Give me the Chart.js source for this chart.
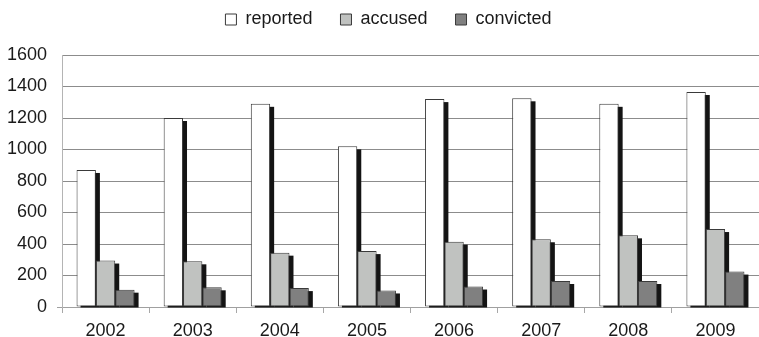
<!DOCTYPE html>
<html>
<head>
<meta charset="utf-8">
<style>
  html, body { margin: 0; padding: 0; background: #ffffff; }
  canvas { display: block; }
</style>
<script src="https://cdn.jsdelivr.net/npm/chart.js@4/dist/chart.umd.min.js"></script>
</head>
<body>
<canvas id="chart" width="759" height="337"></canvas>
<script>
// Cases per year
const years = ['2002', '2003', '2004', '2005', '2006', '2007', '2008', '2009'];
const reported = [870, 1200, 1290, 1020, 1320, 1325, 1290, 1365];
const accused = [295, 290, 345, 355, 415, 430, 455, 495];
const convicted = [110, 125, 120, 105, 130, 165, 165, 225];
const seriesNames = ['reported', 'accused', 'convicted'];

const FONT = { family: '"Liberation Sans", Arial, sans-serif', size: 18 };
const TEXT = '#1a1a1a';

// Dark drop shadow behind every bar, offset right and down,
// drawn from the bar elements' own geometry before the bars are painted.
const barShadow = {
  id: 'barShadow',
  beforeDatasetsDraw(chart) {
    const { ctx, chartArea } = chart;
    ctx.save();
    ctx.beginPath();
    ctx.rect(chartArea.left, chartArea.top, chartArea.right - chartArea.left, chartArea.bottom - chartArea.top + 1);
    ctx.clip();
    ctx.fillStyle = '#141414';
    chart.data.datasets.forEach((ds, i) => {
      const meta = chart.getDatasetMeta(i);
      meta.data.forEach(el => {
        const { x, y, base, width } = el.getProps(['x', 'y', 'base', 'width'], true);
        const dx = 4, dy = 3;
        ctx.fillRect(x - width / 2 + dx, y + dy, width, base - y - dy + 1);
      });
    });
    ctx.restore();
  }
};

// Legend block: reserve space below it and place the row of items.
const legendPlacement = {
  id: 'legendPlacement',
  afterInit(chart) {
    const legend = chart.legend;
    const fit = legend.fit;
    legend.fit = function () {
      fit.call(this);
      this.height = 55;
    };
  },
  afterLayout(chart) {
    const legend = chart.legend;
    const dx = 9;
    const dy = -17.5;
    legend.left += dx;
    legend.right += dx;
    legend.top += dy;
    legend.bottom = legend.top + 60;
  }
};

new Chart(document.getElementById('chart'), {
  type: 'bar',
  data: {
    labels: years,
    datasets: [
      { label: seriesNames[0], data: reported, backgroundColor: '#ffffff' },
      { label: seriesNames[1], data: accused, backgroundColor: '#c0c2c0' },
      { label: seriesNames[2], data: convicted, backgroundColor: '#808080' }
    ].map(d => Object.assign(d, {
      borderColor: '#3a3a3a',
      borderWidth: 1,
      categoryPercentage: 0.666,
      barPercentage: 1.0,
      borderSkipped: false
    }))
  },
  options: {
    responsive: false,
    animation: false,
    layout: { padding: 0 },
    plugins: {
      legend: {
        position: 'top',
        align: 'center',
        labels: {
          boxWidth: 11,
          boxHeight: 11,
          padding: 28,
          color: TEXT,
          font: FONT
        }
      },
      tooltip: { enabled: false }
    },
    scales: {
      x: {
        offset: true,
        grid: {
          display: true,
          drawOnChartArea: false,
          drawTicks: true,
          tickLength: 6,
          tickColor: '#a8a8a8',
          offset: true
        },
        border: { display: true, color: '#a0a0a0', width: 1 },
        ticks: { color: TEXT, font: FONT, padding: 7, maxRotation: 0 },
        afterFit(scale) { scale.height = 30; }
      },
      y: {
        min: 0,
        max: 1600,
        ticks: {
          stepSize: 200,
          color: TEXT,
          font: FONT,
          padding: 10,
          callback: value => String(value)
        },
        grid: {
          color: '#8c8c8c',
          lineWidth: 1,
          drawTicks: true,
          tickLength: 5,
          tickColor: ctx => (ctx.tick && ctx.tick.value === 0 ? '#a0a0a0' : 'rgba(0,0,0,0)')
        },
        border: { display: true, color: '#b4b4b4', width: 1 },
        afterFit(scale) { scale.width = 62; }
      }
    }
  },
  plugins: [barShadow, legendPlacement]
});
</script>
</body>
</html>
